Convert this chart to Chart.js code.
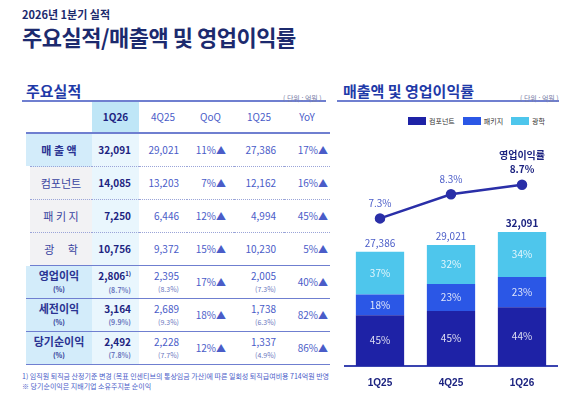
<!DOCTYPE html>
<html><head><meta charset="utf-8">
<script src="https://cdn.jsdelivr.net/npm/chart.js@4.4.1/dist/chart.umd.min.js"></script>
<style>
body{margin:0;width:584px;height:402px;background:#fff;font-family:"Noto Sans CJK KR","Noto Sans",sans-serif;position:relative;overflow:hidden}
.abs{position:absolute}
#sub{left:22px;top:6px;font-size:11px;font-weight:bold;color:#1c2a6e}
#title{left:22px;top:20px;font-size:22px;font-weight:bold;color:#1c2a6e;letter-spacing:-0.5px}
.sec{font-size:15px;font-weight:bold;color:#1f3aa8}
.rule{height:2px;background:#6f7fd0}
.unit{font-size:7px;color:#7a80a8}
table{border-collapse:collapse;font-size:10px;color:#4a5cc8;table-layout:fixed}
td{padding:0;text-align:center;height:32px;line-height:12px}
td.n{text-align:right;padding-right:8px}
td.lab{font-weight:bold;color:#2a3392}
td.b{font-weight:bold;color:#1c2380}
.sm{font-size:7px;color:#6c78c0}
tr.h td{height:30px;border-bottom:2px solid #6f7fd0}
tr.main td{border-bottom:1.5px solid #6f7fd0}
tr.subr td{border-bottom:1px dotted #9aa4d8}
#foot{left:22px;top:371px;font-size:7px;color:#4a5cc8;line-height:10px}
#legend{left:408px;top:116px;font-size:7px;color:#333;display:flex;gap:8px}
#legend span i{display:inline-block;width:18px;height:8px;margin-right:3px;vertical-align:-1px}
</style></head><body>
<div id="sub" class="abs">2026년 1분기 실적</div>
<div id="title" class="abs">주요실적/매출액 및 영업이익률</div>
<div class="abs sec" style="left:26px;top:80px">주요실적</div>
<div class="abs rule" style="left:22px;top:100px;width:304px"></div>
<div class="abs unit" style="left:283px;top:93px">( 단위 : 억원 )</div>
<div class="abs sec" style="left:343px;top:80px">매출액 및 영업이익률</div>
<div class="abs rule" style="left:337px;top:100px;width:222px"></div>
<div class="abs unit" style="left:520px;top:93px">( 단위 : 억원 )</div>
<div id="legend" class="abs">
<span><i style="background:#1e22a6"></i>컴포넌트</span>
<span><i style="background:#2b57e6"></i>패키지</span>
<span><i style="background:#4ec6ec"></i>광학</span>
</div>
<div class="abs" style="left:22px;top:102px" id="tbl"></div>
<div id="foot" class="abs">1) 임직원 퇴직금 산정기준 변경 (목표 인센티브의 통상임금 가산)에 따른 일회성 퇴직급여비용 714억원 반영<br>※ 당기순이익은 지배기업 소유주지분 순이익</div>
<div class="abs" style="left:338px;top:130px;width:226px;height:262px"><canvas id="c"></canvas></div>
<script>
// table data
const colHeads = ["1Q26", "4Q25", "QoQ", "1Q25", "YoY"];
const rowNames = ["매 출 액", "컴포넌트", "패 키 지", "광　 학", "영업이익", "세전이익", "당기순이익"];
const val1Q26 = ["32,091", "14,085", "7,250", "10,756", "2,806", "3,164", "2,492"];
const val4Q25 = ["29,021", "13,203", "6,446", "9,372", "2,395", "2,689", "2,228"];
const valQoQ = ["11%", "7%", "12%", "15%", "17%", "18%", "12%"];
const val1Q25 = ["27,386", "12,162", "4,994", "10,230", "2,005", "1,738", "1,337"];
const valYoY = ["17%", "16%", "45%", "5%", "40%", "82%", "86%"];
const pct1Q26 = [null, null, null, null, "8.7%", "9.9%", "7.8%"];
const pct4Q25 = [null, null, null, null, "8.3%", "9.3%", "7.7%"];
const pct1Q25 = [null, null, null, null, "7.3%", "6.3%", "4.9%"];

// chart data
const quarters = ["1Q25", "4Q25", "1Q26"];
const component = [12162, 13203, 14085];
const pkg = [4994, 6446, 7250];
const optics = [10230, 9372, 10756];
const totals = [27386, 29021, 32091];
const compPct = ["45%", "45%", "44%"];
const pkgPct = ["18%", "23%", "23%"];
const optPct = ["37%", "32%", "34%"];
const margin = [7.3, 8.3, 8.7];

function cell(v, p, sup) {
  return v + (sup ? "<sup style='font-size:6px'>1)</sup>" : "") + (p ? "<br><span class='sm'>(" + p + ")</span>" : "");
}
let h = "<table><colgroup><col style='width:66px'><col style='width:47px'><col style='width:48px'><col style='width:47px'><col style='width:50px'><col style='width:46px'></colgroup>";
h += "<tr class='h'><td></td>" + colHeads.map((c, i) => "<td style='" + (i == 0 ? "background:#bfe6f7;color:#1c2380;font-weight:bold" : "") + "'>" + c + "</td>").join("") + "</tr>";
rowNames.forEach((r, i) => {
  const sub = i >= 1 && i <= 3;
  const cls = (i == 0 || (sub && i < 3)) ? "subr" : "main";
  const labBg = sub ? "#f2f2f4" : "#d3ecfa";
  const lab = sub ? r : (i >= 4 ? r + "<br><span class='sm' style='color:#2a3392'>(%)</span>" : r);
  h += "<tr class='" + cls + "'>";
  h += "<td class='lab' style='background:" + labBg + ";" + (sub ? "border-left:8px solid #fff;font-weight:normal;color:#3a44a0;font-size:11px" : "font-size:11px") + "'>" + lab + "</td>";
  h += "<td class='n b' style='background:#e9f6fd'>" + cell(val1Q26[i], pct1Q26[i], i == 4) + "</td>";
  h += "<td class='n'>" + cell(val4Q25[i], pct4Q25[i]) + "</td>";
  h += "<td class='n'>" + valQoQ[i] + "▲</td>";
  h += "<td class='n'>" + cell(val1Q25[i], pct1Q25[i]) + "</td>";
  h += "<td class='n' style='padding-right:2px'>" + valYoY[i] + "▲</td></tr>";
});
document.getElementById("tbl").innerHTML = h + "</table>";

const labels = {
  id: "labels",
  afterDatasetsDraw(chart) {
    const ctx = chart.ctx;
    ctx.save();
    ctx.textAlign = "center";
    ctx.textBaseline = "middle";
    const pcts = [compPct, pkgPct, optPct];
    for (let d = 0; d < 3; d++) {
      chart.getDatasetMeta(d + 1).data.forEach((b, i) => {
        ctx.fillStyle = "rgba(255,255,255,0.85)";
        ctx.font = "10px 'Noto Sans CJK KR'";
        ctx.fillText(pcts[d][i], b.x, (b.y + b.base) / 2);
      });
    }
    chart.getDatasetMeta(3).data.forEach((b, i) => {
      ctx.fillStyle = i == 2 ? "#1c2380" : "#4a5cc8";
      ctx.font = (i == 2 ? "bold " : "") + "10px 'Noto Sans CJK KR'";
      ctx.fillText(totals[i].toLocaleString("en-US"), b.x, b.y - 9);
    });
    chart.getDatasetMeta(0).data.forEach((p, i) => {
      ctx.fillStyle = i == 2 ? "#1c2380" : "#4a5cc8";
      ctx.font = (i == 2 ? "bold " : "") + "10px 'Noto Sans CJK KR'";
      ctx.fillText(margin[i].toFixed(1) + "%", p.x, p.y - 15);
      if (i == 2) ctx.fillText("영업이익률", p.x, p.y - 29);
    });
    ctx.restore();
  }
};

new Chart("c", {
  data: {
    labels: quarters,
    datasets: [
      { type: "line", data: margin, yAxisID: "y1", borderColor: "#2a2fa8", backgroundColor: "#2a2fa8", borderWidth: 2.5, pointRadius: 4, order: 0 },
      { type: "bar", data: component, backgroundColor: "#1e22a6", stack: "s", order: 1, barPercentage: 0.68, categoryPercentage: 1 },
      { type: "bar", data: pkg, backgroundColor: "#2b57e6", stack: "s", order: 1, barPercentage: 0.68, categoryPercentage: 1 },
      { type: "bar", data: optics, backgroundColor: "#4ec6ec", stack: "s", order: 1, barPercentage: 0.68, categoryPercentage: 1 }
    ]
  },
  options: {
    responsive: true, maintainAspectRatio: false, animation: false,
    layout: { padding: { top: 0, left: 0, right: 0 } },
    plugins: { legend: { display: false }, tooltip: { enabled: false } },
    scales: {
      x: { stacked: true, grid: { display: false }, border: { color: "#3a44b0", width: 2 },
        ticks: { color: "#1c2380", font: { size: 10, weight: "bold" } } },
      y: { stacked: true, display: false, min: 0, max: 55000 },
      y1: { display: false, min: 1.17, max: 10.7 }
    }
  },
  plugins: [labels]
});
</script>
</body></html>
